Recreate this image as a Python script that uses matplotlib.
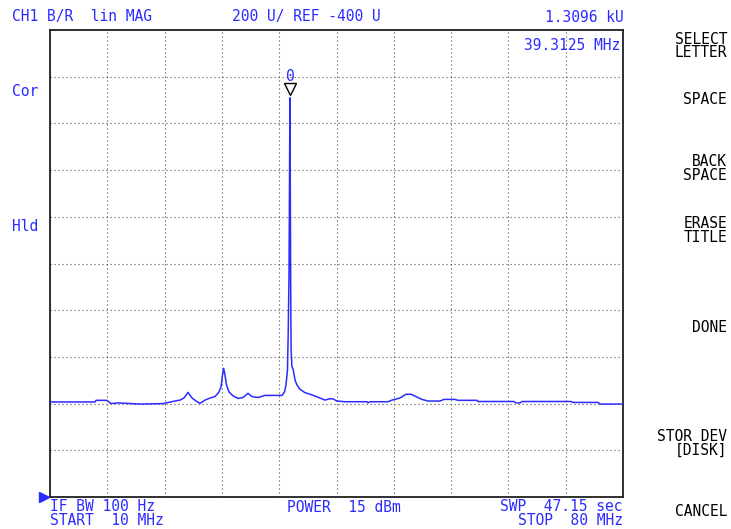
import matplotlib
matplotlib.use("Agg")
import matplotlib.pyplot as plt
import matplotlib.transforms as mtransforms
import numpy as np

# ---- data ----
freq_mhz = [10.0, 15.50, 15.62, 16.96, 17.45, 18.31, 20.99, 23.80, 25.27, 25.88, 26.37,
            26.86, 27.35, 27.84, 28.32, 28.94, 29.55, 30.16, 30.65, 30.89, 31.07, 31.22,
            31.38, 31.56, 31.87, 32.36, 32.97, 33.58, 34.19, 34.68, 35.41, 36.26, 38.34,
            38.65, 38.83, 39.01, 39.10, 39.20, 39.3125, 39.36, 39.40, 39.45, 39.55, 39.72,
            39.93, 40.17, 40.54, 41.15, 42.01, 42.98, 43.59, 44.20, 44.57, 45.06, 46.04,
            48.72, 48.85, 49.09, 51.29, 51.78, 52.76, 53.49, 54.10, 54.71, 55.44, 56.18,
            57.64, 58.13, 59.47, 59.84, 62.16, 62.28, 66.68, 66.92, 67.41, 67.66, 73.64,
            73.89, 76.95, 77.19, 80.0]
mag_u = [7, 7, 14, 14, 0, 3, -2, 0, 11, 15, 24,
         48, 24, 11, 1, 15, 24, 30, 50, 71, 122, 151,
         122, 80, 50, 33, 22, 26, 44, 30, 26, 35, 35,
         50, 80, 144, 300, 551, 1309.6, 885, 540, 238, 160, 144,
         101, 80, 61, 47, 37, 24, 15, 21, 20, 11, 8,
         8, 3, 8, 8, 15, 24, 40, 40, 30, 18, 11,
         11, 18, 18, 14, 14, 9, 9, 3, 3, 9, 9,
         5, 5, -2, -2]
marker_freq = 39.3125
marker_val = 1309.6
x_start, x_stop = 10, 80
ref_val, per_div = -400, 200

header_left = "CH1 B/R  lin MAG"
header_mid = "200 U/ REF -400 U"
header_right = "1.3096 kU"
marker_readout = "39.3125 MHz"
side_labels = [("Cor", 91), ("Hld", 226)]
footer = [("IF BW 100 Hz\nSTART  10 MHz", 50, 513.5, "left"),
          ("POWER  15 dBm", 287, 507, "left"),
          ("SWP  47.15 sec\nSTOP  80 MHz", 623, 513.5, "right")]
softkeys = [("SELECT\nLETTER", 46), ("SPACE", 100), ("BACK\nSPACE", 168.5),
            ("ERASE\nTITLE", 230.5), ("DONE", 327), ("STOR DEV\n[DISK]", 443.5),
            ("CANCEL", 511)]

W, H = 731, 529
BLUE = "#2b2bff"
FONT = "DejaVu Sans Mono"
FS = 10.5
LS = 0.86

fig = plt.figure(figsize=(W / 100, H / 100), dpi=100)
fig.patch.set_facecolor("white")

L, R, T, B = 50, 623, 30, 497
ax = fig.add_axes([L / W, 1 - B / H, (R - L) / W, (B - T) / H])
ax.set_xlim(x_start, x_stop)
ax.set_ylim(ref_val, ref_val + 10 * per_div)
ax.set_xticks(np.linspace(x_start, x_stop, 11))
ax.set_yticks(np.arange(ref_val, ref_val + 10 * per_div + 1, per_div))
ax.tick_params(length=0, labelbottom=False, labelleft=False)
ax.grid(True, color="#505050", linewidth=0.8, linestyle=(0, (1, 2.6)))
for s in ax.spines.values():
    s.set_linewidth(1.3)
    s.set_color("#202020")

ax.plot(freq_mhz, mag_u, color=BLUE, linewidth=1.1, zorder=3)

# marker triangle (tip at the peak) and label
tri_tr = mtransforms.offset_copy(ax.transData, fig=fig, x=0, y=6.5, units="points")
ax.plot([marker_freq], [marker_val], marker="v", markersize=9, markerfacecolor="white",
        markeredgecolor="black", markeredgewidth=1.0, transform=tri_tr, clip_on=False, zorder=4)
lab_tr = mtransforms.offset_copy(ax.transData, fig=fig, x=0, y=15, units="points")
ax.text(marker_freq, marker_val, "0", transform=lab_tr, color=BLUE, fontfamily=FONT,
        fontsize=FS, ha="center", va="center", zorder=4)


def ftext(x, y, s, ha="left", color=BLUE):
    fig.text(x / W, 1 - y / H, s, ha=ha, va="center", color=color, multialignment=ha,
             fontfamily=FONT, fontsize=FS, linespacing=LS)


ftext(12, 17, header_left)
ftext(232, 17, header_mid)
ftext(624, 17, header_right, ha="right")
ftext(620, 46, marker_readout, ha="right")
for s, y in side_labels:
    ftext(12, y, s)
for s, x, y, ha in footer:
    ftext(x, y, s, ha=ha)
for s, y in softkeys:
    ftext(727, y, s, ha="right", color="black")

# reference position arrow at left
fig.lines.append(plt.Line2D([44 / W], [1 - 497 / H], marker=">", markersize=7, color=BLUE,
                            transform=fig.transFigure))

fig.savefig("out.png", dpi=100, facecolor="white")
